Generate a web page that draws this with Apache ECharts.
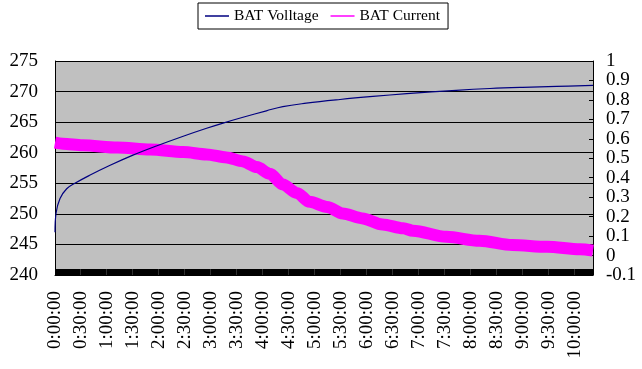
<!DOCTYPE html>
<html>
<head>
<meta charset="utf-8">
<script src="https://cdn.jsdelivr.net/npm/echarts@6/dist/echarts.min.js"></script>
<style>
html,body{margin:0;padding:0;background:#fff;}
#chart{width:642px;height:369px;}
</style>
</head>
<body>
<div id="chart"></div>
<script>
// Elapsed time in minutes
var voltTimes = [0, 1.2, 5.8, 13.5, 23, 40, 63, 90, 117, 148, 175, 194, 217, 244, 263, 290, 329, 367, 406, 463, 502, 540, 579, 621];
var voltValues = [247, 250.1, 252.5, 254.1, 255.0, 256.3, 257.9, 259.6, 261.1, 262.7, 264.0, 264.85, 265.8, 266.85, 267.55, 268.1, 268.7, 269.2, 269.65, 270.2, 270.5, 270.7, 270.85, 271.0];

var currTimes = [0, 9, 32, 72, 110, 148, 175, 198, 217, 233, 248, 263, 279, 294, 314, 332, 355, 378, 402, 413, 452, 490, 528, 568, 606, 621];
var currValues = [0.58, 0.575, 0.567, 0.555, 0.545, 0.532, 0.52, 0.504, 0.484, 0.455, 0.42, 0.365, 0.322, 0.276, 0.25, 0.216, 0.191, 0.16, 0.14, 0.128, 0.096, 0.076, 0.054, 0.045, 0.032, 0.025];

var seriesNames = ['BAT Volltage', 'BAT Current'];
var timeStepMinutes = 30;
var timeMax = 621;

function pairs(xs, ys) {
  return xs.map(function (x, i) { return [x, ys[i]]; });
}
function fmtTime(v) {
  if (Math.abs(v % timeStepMinutes) > 1e-6) return '';
  var h = Math.floor(v / 60);
  var m = v % 60;
  return h + ':' + (m < 10 ? '0' + m : m) + ':00';
}

var FONT = "'Liberation Serif', 'Times New Roman', serif";
var chart = echarts.init(document.getElementById('chart'), null, {renderer: 'canvas'});
chart.setOption({
  animation: false,
  backgroundColor: '#ffffff',
  legend: {
    left: 198, top: 3,
    padding: [5, 8, 5, 7],
    itemGap: 12,
    itemWidth: 24, itemHeight: 1.5,
    icon: 'rect',
    borderColor: '#000', borderWidth: 1,
    backgroundColor: '#fff',
    textStyle: {fontFamily: FONT, fontSize: 15.5, color: '#000'},
    data: seriesNames
  },
  grid: {
    left: 55, right: 49, top: 61, bottom: 94,
    show: true, backgroundColor: '#C0C0C0', borderWidth: 0
  },
  xAxis: {
    type: 'value', min: 0, max: timeMax, interval: timeStepMinutes,
    axisLine: {show: true, onZero: false, lineStyle: {color: '#000', width: 1}},
    axisTick: {show: true, inside: true, length: 6, lineStyle: {color: '#000', width: 1}},
    minorTick: {show: true, splitNumber: 26, length: 6, lineStyle: {color: '#000', width: 1.5}},
    splitLine: {show: false},
    minorSplitLine: {show: false},
    axisLabel: {
      rotate: 90, margin: 16, fontFamily: FONT, fontSize: 19, color: '#000',
      showMaxLabel: false, padding: [0, 0, 6, 0],
      formatter: fmtTime
    }
  },
  yAxis: [{
    type: 'value', min: 240, max: 275, interval: 5, position: 'left',
    axisLine: {show: true, lineStyle: {color: '#000'}},
    axisTick: {show: false},
    splitLine: {show: true, lineStyle: {color: '#000', width: 1}},
    axisLabel: {margin: 17, fontFamily: FONT, fontSize: 19, color: '#000'}
  }, {
    type: 'value', min: -0.1, max: 1, interval: 0.1, position: 'right',
    axisLine: {show: true, lineStyle: {color: '#000'}},
    axisTick: {show: true, inside: true, length: 4, lineStyle: {color: '#000'}},
    splitLine: {show: false},
    axisLabel: {margin: 13, fontFamily: FONT, fontSize: 19, color: '#000'}
  }],
  series: [{
    name: seriesNames[1], type: 'line', yAxisIndex: 1,
    data: pairs(currTimes, currValues),
    showSymbol: false, symbol: 'none',
    smooth: 0.3, smoothMonotone: 'x',
    color: '#FF00FF',
    lineStyle: {color: '#FF00FF', width: 12},
    z: 2
  }, {
    name: seriesNames[0], type: 'line', yAxisIndex: 0,
    data: pairs(voltTimes, voltValues),
    showSymbol: false, symbol: 'none',
    smooth: 0.4,
    color: '#000080',
    lineStyle: {color: '#000080', width: 1.2},
    z: 3
  }]
});
</script>
</body>
</html>
